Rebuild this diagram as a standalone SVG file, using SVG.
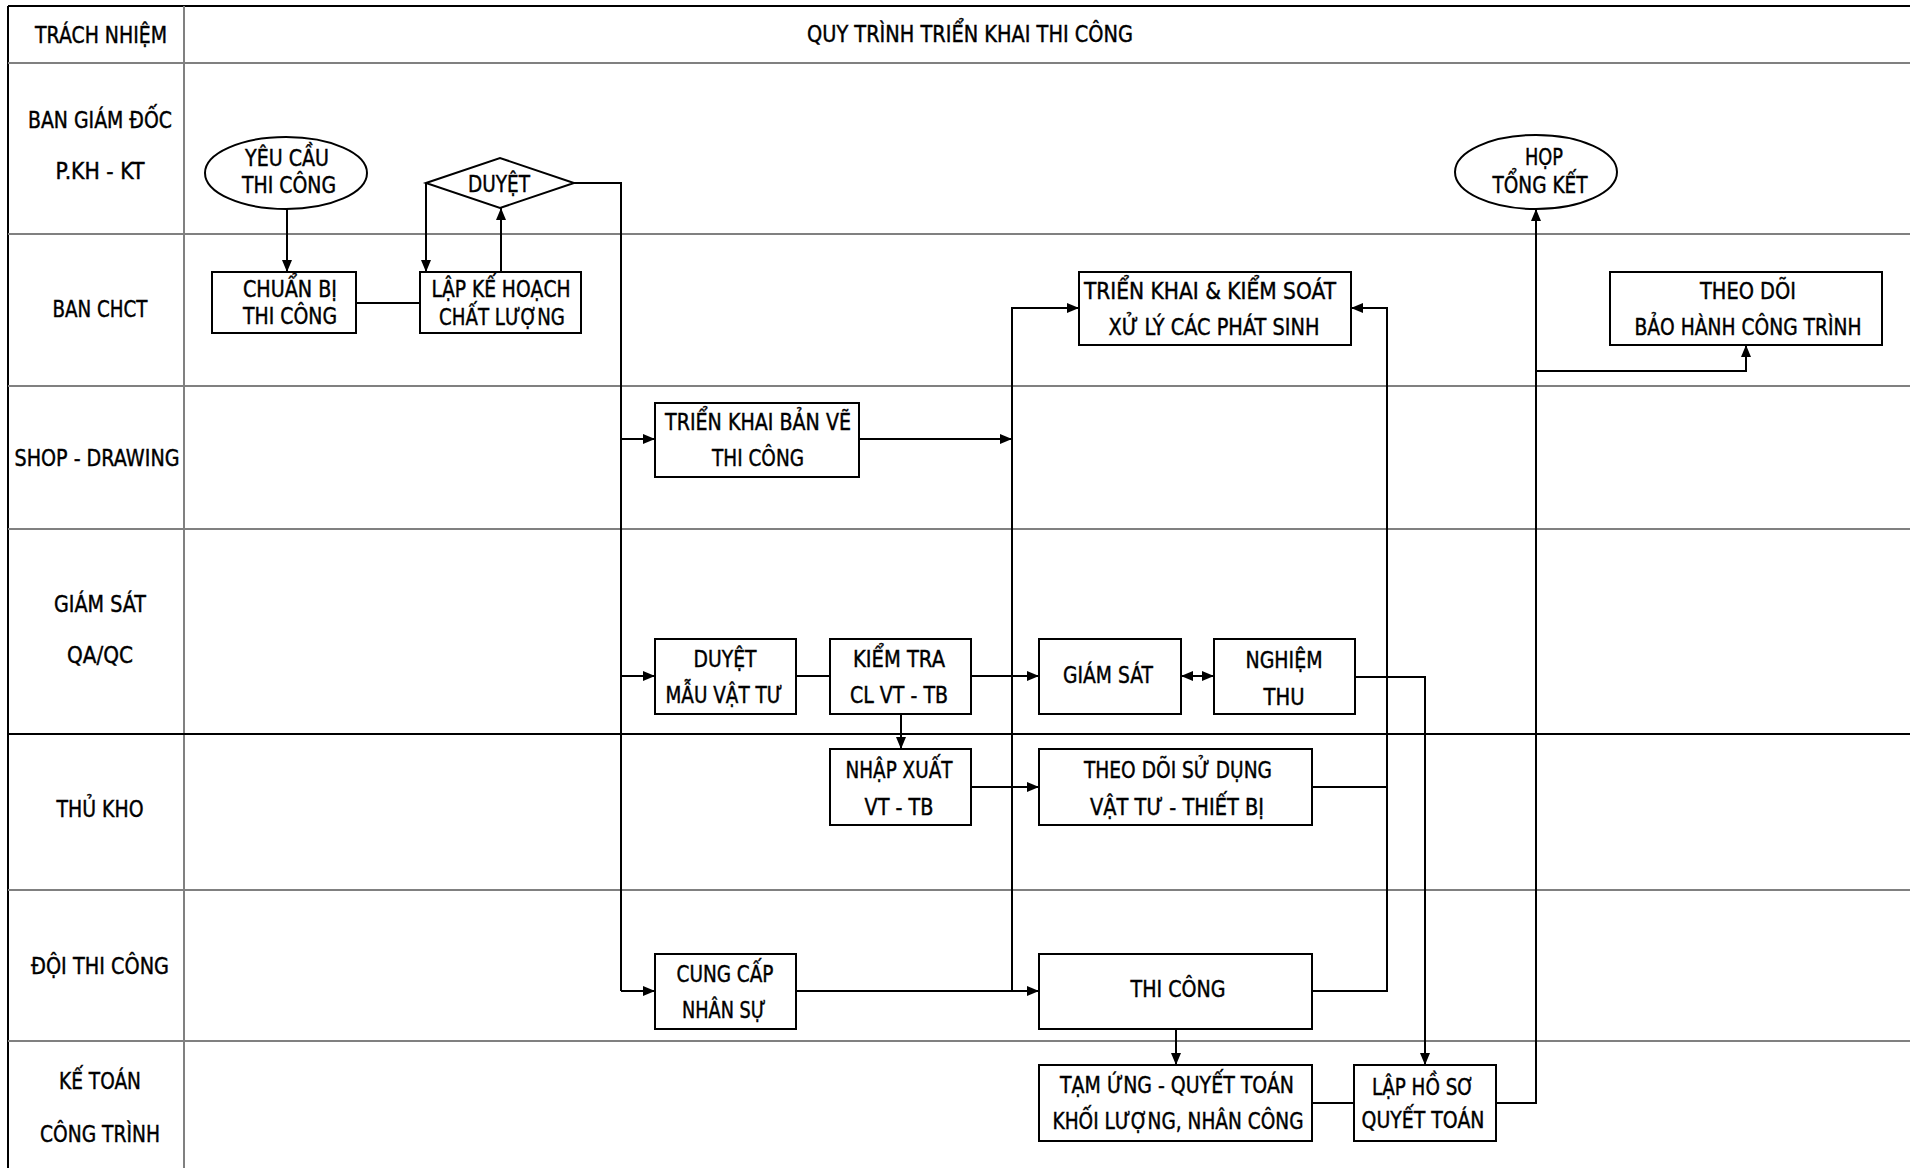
<svg xmlns="http://www.w3.org/2000/svg" width="1910" height="1168" viewBox="0 0 1910 1168">
  <style>
    .grid { stroke: #808080; stroke-width: 2; fill: none; }
    .frame { stroke: #000; stroke-width: 2; fill: none; }
    .box { fill: #fff; stroke: #000; stroke-width: 2; }
    .wire { fill: none; stroke: #000; stroke-width: 2; }
    .arrow { marker-end: url(#head); }
    .both { marker-start: url(#headStart); marker-end: url(#head); }
    text { font-family: "DejaVu Sans", "Liberation Sans", sans-serif; font-size: 23px; fill: #000; stroke: #000; stroke-width: 0.45; text-anchor: middle; }
  </style>
  <defs>
    <marker id="head" markerUnits="userSpaceOnUse" markerWidth="12" markerHeight="10" refX="12" refY="5" orient="auto">
      <path d="M0,0 L12,5 L0,10 Z" fill="#000"/>
    </marker>
    <marker id="headStart" markerUnits="userSpaceOnUse" markerWidth="12" markerHeight="10" refX="12" refY="5" orient="auto-start-reverse">
      <path d="M0,0 L12,5 L0,10 Z" fill="#000"/>
    </marker>
  </defs>

  <rect x="0" y="0" width="1910" height="1168" fill="#fff"/>

  <!-- swimlane table -->
  <g id="lanes">
    <line class="frame" x1="8" y1="6" x2="1910" y2="6"/>
    <line class="frame" x1="8" y1="6" x2="8" y2="1168"/>
    <line class="grid" x1="184" y1="6" x2="184" y2="1168"/>
    <line class="grid" x1="8" y1="63" x2="1910" y2="63"/>
    <line class="grid" x1="8" y1="234" x2="1910" y2="234"/>
    <line class="grid" x1="8" y1="386" x2="1910" y2="386"/>
    <line class="grid" x1="8" y1="529" x2="1910" y2="529"/>
    <line class="frame" x1="8" y1="734" x2="1910" y2="734" stroke-width="1.5"/>
    <line class="grid" x1="8" y1="890" x2="1910" y2="890"/>
    <line class="grid" x1="8" y1="1041" x2="1910" y2="1041"/>

    <text x="101" y="43" textLength="132" lengthAdjust="spacingAndGlyphs">TRÁCH NHIỆM</text>
    <text x="970" y="42" textLength="326" lengthAdjust="spacingAndGlyphs">QUY TRÌNH TRIỂN KHAI THI CÔNG</text>
    <text x="100" y="128" textLength="144" lengthAdjust="spacingAndGlyphs">BAN GIÁM ĐỐC</text>
    <text x="100" y="179" textLength="89" lengthAdjust="spacingAndGlyphs">P.KH - KT</text>
    <text x="100" y="317" textLength="95" lengthAdjust="spacingAndGlyphs">BAN CHCT</text>
    <text x="97" y="466" textLength="165" lengthAdjust="spacingAndGlyphs">SHOP - DRAWING</text>
    <text x="100" y="612" textLength="92" lengthAdjust="spacingAndGlyphs">GIÁM SÁT</text>
    <text x="100" y="663" textLength="66" lengthAdjust="spacingAndGlyphs">QA/QC</text>
    <text x="100" y="817" textLength="87" lengthAdjust="spacingAndGlyphs">THỦ KHO</text>
    <text x="100" y="974" textLength="138" lengthAdjust="spacingAndGlyphs">ĐỘI THI CÔNG</text>
    <text x="100" y="1089" textLength="82" lengthAdjust="spacingAndGlyphs">KẾ TOÁN</text>
    <text x="100" y="1142" textLength="120" lengthAdjust="spacingAndGlyphs">CÔNG TRÌNH</text>
  </g>

  <!-- connectors -->
  <g id="connectors">
    <path class="wire arrow" d="M287,209 V272"/>
    <path class="wire" d="M356,303 H420"/>
    <path class="wire arrow" d="M501,272 V208"/>
    <path class="wire arrow" d="M426,183 V272"/>
    <path class="wire" d="M574,183 H621 V991"/>
    <path class="wire arrow" d="M621,439 H655"/>
    <path class="wire arrow" d="M621,676 H655"/>
    <path class="wire arrow" d="M621,991 H655"/>
    <path class="wire arrow" d="M859,439 H1012"/>
    <path class="wire arrow" d="M1012,991 V308 H1079"/>
    <path class="wire" d="M796,676 H830"/>
    <path class="wire arrow" d="M971,676 H1039"/>
    <path class="wire both" d="M1181,676 H1214"/>
    <path class="wire arrow" d="M901,714 V749"/>
    <path class="wire arrow" d="M971,787 H1039"/>
    <path class="wire arrow" d="M796,991 H1039"/>
    <path class="wire" d="M1312,787 H1387"/>
    <path class="wire arrow" d="M1312,991 H1387 V308 H1351"/>
    <path class="wire arrow" d="M1355,677 H1425 V1065"/>
    <path class="wire arrow" d="M1176,1029 V1065"/>
    <path class="wire" d="M1312,1103 H1354"/>
    <path class="wire arrow" d="M1496,1103 H1536 V209"/>
    <path class="wire arrow" d="M1536,371 H1746 V345"/>
  </g>

  <!-- nodes -->
  <g id="yeu-cau-thi-cong">
    <ellipse class="box" cx="286" cy="173" rx="81" ry="36"/>
    <text x="287" y="166" textLength="84" lengthAdjust="spacingAndGlyphs">YÊU CẦU</text>
    <text x="289" y="193" textLength="94" lengthAdjust="spacingAndGlyphs">THI CÔNG</text>
  </g>

  <g id="duyet">
    <polygon class="box" points="426,183 500,158 574,183 500,208"/>
    <text x="499" y="192" textLength="62" lengthAdjust="spacingAndGlyphs">DUYỆT</text>
  </g>

  <g id="chuan-bi-thi-cong">
    <rect class="box" x="212" y="272" width="144" height="61"/>
    <text x="290" y="297" textLength="94" lengthAdjust="spacingAndGlyphs">CHUẨN BỊ</text>
    <text x="290" y="324" textLength="94" lengthAdjust="spacingAndGlyphs">THI CÔNG</text>
  </g>

  <g id="lap-ke-hoach">
    <rect class="box" x="420" y="272" width="161" height="61"/>
    <text x="501" y="297" textLength="139" lengthAdjust="spacingAndGlyphs">LẬP KẾ HOẠCH</text>
    <text x="502" y="325" textLength="126" lengthAdjust="spacingAndGlyphs">CHẤT LƯỢNG</text>
  </g>

  <g id="trien-khai-ban-ve">
    <rect class="box" x="655" y="403" width="204" height="74"/>
    <text x="758" y="430" textLength="186" lengthAdjust="spacingAndGlyphs">TRIỂN KHAI BẢN VẼ</text>
    <text x="758" y="466" textLength="92" lengthAdjust="spacingAndGlyphs">THI CÔNG</text>
  </g>

  <g id="trien-khai-kiem-soat">
    <rect class="box" x="1079" y="272" width="272" height="73"/>
    <text x="1210" y="299" textLength="252" lengthAdjust="spacingAndGlyphs">TRIỂN KHAI &amp; KIỂM SOÁT</text>
    <text x="1214" y="335" textLength="211" lengthAdjust="spacingAndGlyphs">XỬ LÝ CÁC PHÁT SINH</text>
  </g>

  <g id="hop-tong-ket">
    <ellipse class="box" cx="1536" cy="172" rx="81" ry="37"/>
    <text x="1544" y="165" textLength="38" lengthAdjust="spacingAndGlyphs">HỌP</text>
    <text x="1540" y="193" textLength="95" lengthAdjust="spacingAndGlyphs">TỔNG KẾT</text>
  </g>

  <g id="theo-doi-bao-hanh">
    <rect class="box" x="1610" y="272" width="272" height="73"/>
    <text x="1748" y="299" textLength="96" lengthAdjust="spacingAndGlyphs">THEO DÕI</text>
    <text x="1748" y="335" textLength="227" lengthAdjust="spacingAndGlyphs">BẢO HÀNH CÔNG TRÌNH</text>
  </g>

  <g id="duyet-mau-vat-tu">
    <rect class="box" x="655" y="639" width="141" height="75"/>
    <text x="725" y="667" textLength="63" lengthAdjust="spacingAndGlyphs">DUYỆT</text>
    <text x="724" y="703" textLength="117" lengthAdjust="spacingAndGlyphs">MẪU VẬT TƯ</text>
  </g>

  <g id="kiem-tra">
    <rect class="box" x="830" y="639" width="141" height="75"/>
    <text x="899" y="667" textLength="92" lengthAdjust="spacingAndGlyphs">KIỂM TRA</text>
    <text x="899" y="703" textLength="98" lengthAdjust="spacingAndGlyphs">CL VT - TB</text>
  </g>

  <g id="giam-sat">
    <rect class="box" x="1039" y="639" width="142" height="75"/>
    <text x="1108" y="683" textLength="90" lengthAdjust="spacingAndGlyphs">GIÁM SÁT</text>
  </g>

  <g id="nghiem-thu">
    <rect class="box" x="1214" y="639" width="141" height="75"/>
    <text x="1284" y="668" textLength="77" lengthAdjust="spacingAndGlyphs">NGHIỆM</text>
    <text x="1284" y="705" textLength="41" lengthAdjust="spacingAndGlyphs">THU</text>
  </g>

  <g id="nhap-xuat">
    <rect class="box" x="830" y="749" width="141" height="76"/>
    <text x="899" y="778" textLength="107" lengthAdjust="spacingAndGlyphs">NHẬP XUẤT</text>
    <text x="899" y="815" textLength="69" lengthAdjust="spacingAndGlyphs">VT - TB</text>
  </g>

  <g id="theo-doi-su-dung">
    <rect class="box" x="1039" y="749" width="273" height="76"/>
    <text x="1178" y="778" textLength="188" lengthAdjust="spacingAndGlyphs">THEO DÕI SỬ DỤNG</text>
    <text x="1177" y="815" textLength="174" lengthAdjust="spacingAndGlyphs">VẬT TƯ - THIẾT BỊ</text>
  </g>

  <g id="cung-cap-nhan-su">
    <rect class="box" x="655" y="954" width="141" height="75"/>
    <text x="725" y="982" textLength="97" lengthAdjust="spacingAndGlyphs">CUNG CẤP</text>
    <text x="724" y="1018" textLength="84" lengthAdjust="spacingAndGlyphs">NHÂN SỰ</text>
  </g>

  <g id="thi-cong">
    <rect class="box" x="1039" y="954" width="273" height="75"/>
    <text x="1178" y="997" textLength="95" lengthAdjust="spacingAndGlyphs">THI CÔNG</text>
  </g>

  <g id="tam-ung-quyet-toan">
    <rect class="box" x="1039" y="1065" width="273" height="76"/>
    <text x="1177" y="1093" textLength="234" lengthAdjust="spacingAndGlyphs">TẠM ỨNG - QUYẾT TOÁN</text>
    <text x="1178" y="1129" textLength="251" lengthAdjust="spacingAndGlyphs">KHỐI LƯỢNG, NHÂN CÔNG</text>
  </g>

  <g id="lap-ho-so-quyet-toan">
    <rect class="box" x="1354" y="1065" width="142" height="76"/>
    <text x="1423" y="1095" textLength="102" lengthAdjust="spacingAndGlyphs">LẬP HỒ SƠ</text>
    <text x="1423" y="1128" textLength="123" lengthAdjust="spacingAndGlyphs">QUYẾT TOÁN</text>
  </g>
</svg>
